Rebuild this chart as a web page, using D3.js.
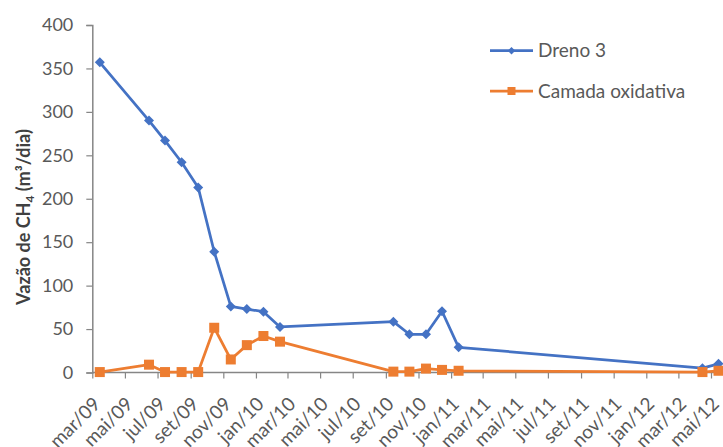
<!DOCTYPE html>
<html>
<head>
<meta charset="utf-8">
<script src="https://cdn.jsdelivr.net/npm/d3@7"></script>
<style>
  html, body { margin: 0; padding: 0; background: #fff; }
  svg { display: block; font-family: Lato, "Open Sans", sans-serif; }
</style>
</head>
<body>
<svg id="chart" width="723" height="447"></svg>
<script>
// Sampling dates (mid-month campaigns)
const dates = [
  "2009-03-15", "2009-06-15", "2009-07-15", "2009-08-15", "2009-09-15",
  "2009-10-15", "2009-11-15", "2009-12-15", "2010-01-15", "2010-02-15",
  "2010-09-15", "2010-10-15", "2010-11-15", "2010-12-15", "2011-01-15",
  "2012-04-15", "2012-05-15"
];
// CH4 flow (m³/dia)
const dreno3 = [357, 290, 267, 242, 213, 139, 76, 73, 70, 52.5, 58.5, 44, 44, 70.5, 29, 5, 10];
const camadaOxidativa = [0.5, 9, 0.5, 0.5, 0.5, 51.5, 15, 31.5, 42, 35.5, 1, 1, 4.5, 3, 2, 0.5, 2];

const seriesNames = ["Dreno 3", "Camada oxidativa"];
const monthNames = ["jan", "fev", "mar", "abr", "mai", "jun", "jul", "ago", "set", "out", "nov", "dez"];
const yTicks = [0, 50, 100, 150, 200, 250, 300, 350, 400];
const axisStart = "2009-03-01";
const axisEnd = "2012-05-01";

const parse = d3.timeParse("%Y-%m-%d");
const svg = d3.select("#chart");

const x = d3.scaleTime()
  .domain([parse(axisStart), parse(axisEnd)])
  .range([92.3, 711]);
const y = d3.scaleLinear().domain([0, 400]).range([372.5, 25]);

const blue = "#4472C4", orange = "#ED7D31";
const axisColor = "#868686", textColor = "#595959";

// Y axis
const yAxis = svg.append("g").attr("transform", "translate(92.3,0)")
  .call(d3.axisLeft(y).tickValues(yTicks).tickSize(6).tickPadding(13));
yAxis.select(".domain").attr("stroke", axisColor).attr("stroke-width", 1.5);
yAxis.selectAll(".tick line").attr("stroke", axisColor).attr("stroke-width", 1.2);
yAxis.selectAll(".tick text").attr("fill", textColor)
  .style("font-size", "18px").style("font-family", "Lato, sans-serif");

// X axis (date axis, tick every two months)
const xTickValues = d3.timeMonth.range(parse(axisStart), d3.timeDay.offset(parse(axisEnd), 1), 2);
const fmt = d => monthNames[d.getMonth()] + "/" + String(d.getFullYear()).slice(2);
const xAxis = svg.append("g").attr("transform", "translate(0,372.5)")
  .call(d3.axisBottom(x).tickValues(xTickValues).tickFormat(fmt).tickSize(6).tickSizeOuter(0));
xAxis.select(".domain").remove();
xAxis.append("line").attr("x1", 92.3).attr("x2", 723).attr("y1", 0).attr("y2", 0)
  .attr("stroke", axisColor).attr("stroke-width", 1.5);
xAxis.selectAll(".tick line").attr("stroke", axisColor).attr("stroke-width", 1.2);
xAxis.selectAll(".tick text")
  .attr("fill", textColor)
  .style("font-size", "19px").style("font-family", "Lato, sans-serif")
  .attr("text-anchor", "end")
  .attr("x", 0).attr("y", 0).attr("dy", "0.35em")
  .attr("transform", "translate(4,28) rotate(-45)");

// Y axis title
const title = svg.append("text")
  .attr("transform", "translate(30,217) rotate(-90)")
  .attr("text-anchor", "middle")
  .attr("fill", "#404040")
  .style("font-size", "18px").style("font-weight", "bold");
title.append("tspan").text("Vazão de CH");
title.append("tspan").attr("dy", 4).style("font-size", "12px").text("4");
title.append("tspan").attr("dy", -4).text(" (m³/dia)");

const line = d3.line().x((d, i) => x(parse(dates[i]))).y(d => y(d));

// Dreno 3 series
svg.append("path").datum(dreno3).attr("d", line)
  .attr("fill", "none").attr("stroke", blue).attr("stroke-width", 2.75).attr("stroke-linejoin", "round");
svg.append("g").selectAll("path").data(dreno3).join("path")
  .attr("d", d3.symbol().type(d3.symbolSquare).size(50))
  .attr("transform", (d, i) => `translate(${x(parse(dates[i]))},${y(d)}) rotate(45)`)
  .attr("fill", blue);

// Camada oxidativa series
svg.append("path").datum(camadaOxidativa).attr("d", line)
  .attr("fill", "none").attr("stroke", orange).attr("stroke-width", 2.75).attr("stroke-linejoin", "round");
svg.append("g").selectAll("rect").data(camadaOxidativa).join("rect")
  .attr("x", (d, i) => x(parse(dates[i])) - 5)
  .attr("y", d => y(d) - 5)
  .attr("width", 10).attr("height", 10)
  .attr("fill", orange);

// Legend
const legend = svg.append("g");
const legendRows = [
  { name: seriesNames[0], color: blue, cy: 50.7, marker: "diamond" },
  { name: seriesNames[1], color: orange, cy: 91, marker: "square" }
];
legendRows.forEach(r => {
  legend.append("line").attr("x1", 490).attr("x2", 533).attr("y1", r.cy).attr("y2", r.cy)
    .attr("stroke", r.color).attr("stroke-width", 2.75);
  if (r.marker === "diamond") {
    legend.append("path").attr("d", d3.symbol().type(d3.symbolSquare).size(28)())
      .attr("transform", `translate(511.5,${r.cy}) rotate(45)`).attr("fill", r.color);
  } else {
    legend.append("rect").attr("x", 507.5).attr("y", r.cy - 4).attr("width", 8).attr("height", 8)
      .attr("fill", r.color);
  }
  legend.append("text").attr("x", 538).attr("y", r.cy).attr("dy", "0.35em")
    .attr("fill", textColor).style("font-size", "19px").text(r.name);
});
</script>
</body>
</html>
